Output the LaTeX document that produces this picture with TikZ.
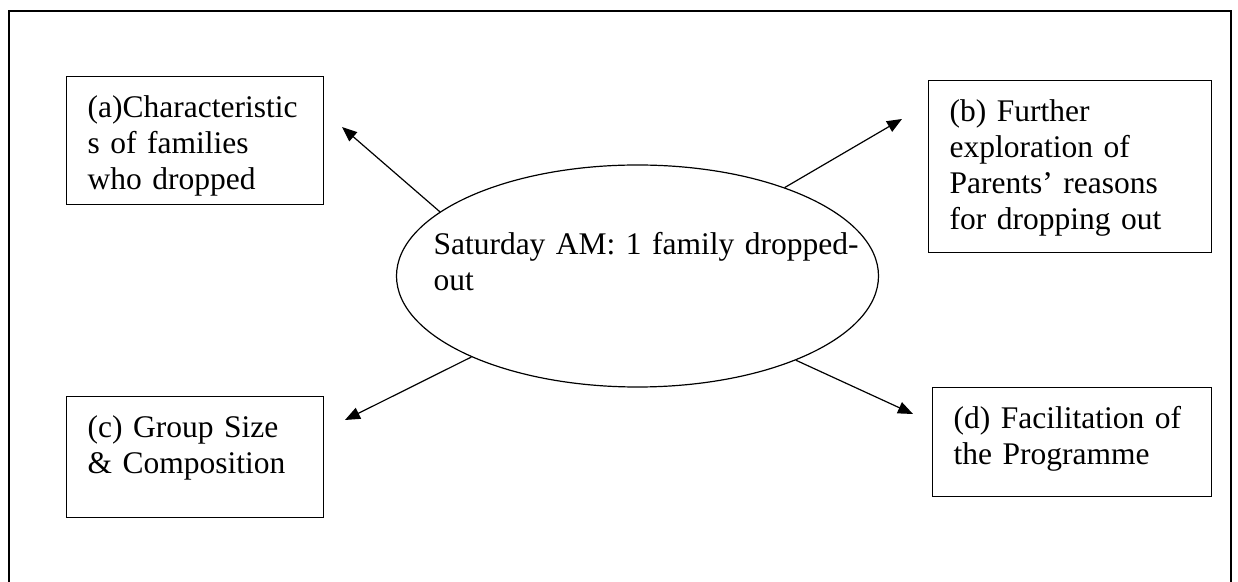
\documentclass[tikz,border=0pt]{standalone}
\usepackage{fontspec}
\setmainfont{Liberation Serif}
\usetikzlibrary{shapes.geometric, arrows.meta}

\begin{document}
\begin{tikzpicture}[
  x=0.5pt, y=-0.5pt,
  every node/.style={font=\fontsize{15.75pt}{18pt}\selectfont},
  theme/.style={draw, line width=0.6pt, anchor=north west, align=left,
                inner xsep=10.5pt, inner ysep=5pt, text height=15.5pt},
  hub/.style={draw, ellipse, line width=0.6pt,
              minimum width=241pt, minimum height=111pt,
              inner xsep=-20pt, inner ysep=0pt, align=left, text width=204pt,
              text height=14pt, text depth=35pt},
  arrow/.style={-{Triangle[length=7.5pt, width=6pt]}, line width=0.6pt}
]
  \useasboundingbox (0,0) rectangle (1238,582);
  % open frame round the whole chart
  \draw[line width=0.7pt] (9,600) -- (9,11) -- (1231,11) -- (1231,600);

  \node[hub] (drop) at (637.5,276) {\mbox{Saturday AM: 1 family dropped-}\\out};

  \node[theme, text width=107.5pt, text depth=38.5pt] (chars) at (66,76)
    {(a)Characteristic\\s of families\\who dropped};
  \node[theme, text width=120.5pt, text depth=60.5pt] (reasons) at (928,80)
    {(b) Further\\exploration of\\Parents’ reasons\\for dropping out};
  \node[theme, text width=107.5pt, text depth=35pt] (group) at (66,396)
    {(c) Group Size\\\& Composition};
  \node[theme, text width=118.5pt, text depth=29pt] (facil) at (932,387)
    {(d) Facilitation of\\the Programme};

  \coordinate (tipA) at (342,127);
  \coordinate (tipB) at (902,119);
  \coordinate (tipC) at (345,420);
  \coordinate (tipD) at (913,414);

  \draw[arrow] (drop.162) -- (tipA);
  \draw[arrow] (drop.31) -- (tipB);
  \draw[arrow] (drop.206) -- (tipC);
  \draw[arrow] (drop.332) -- (tipD);
\end{tikzpicture}
\end{document}
